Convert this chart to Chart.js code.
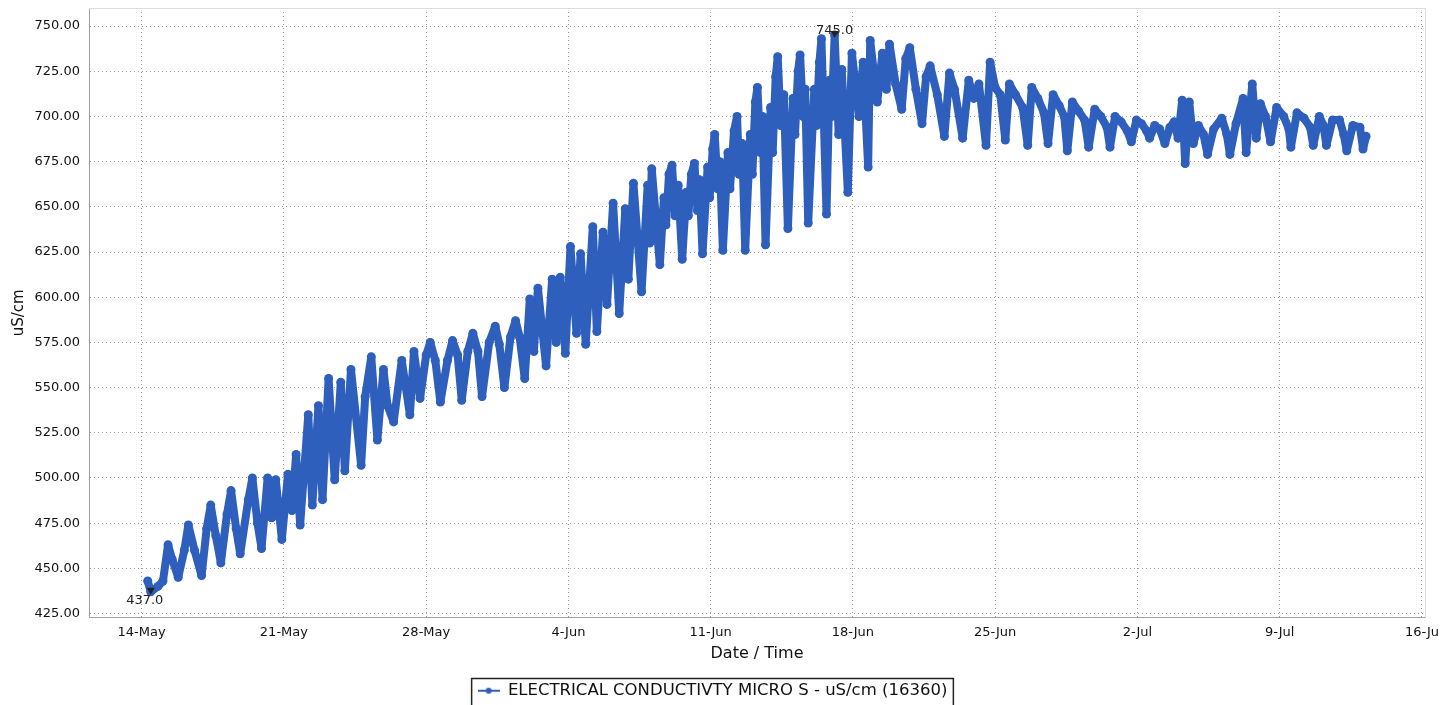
<!DOCTYPE html>
<html>
  <head>
    <script src="https://cdn.jsdelivr.net/npm/chart.js@4/dist/chart.umd.min.js"></script>
    <style>
      body {
        margin: 0;
        background: #ffffff;
      }
      /* fixed size canvas, same as the screenshot */
      #ecChart {
        display: block;
        width: 1440px;
        height: 705px;
      }
    </style>
  </head>
  <body>
    <canvas id="ecChart" width="1440" height="705"></canvas>
    <script>
      // sample times, in days after 14-May 00:00
      var sampleDay = [
        0.30, 0.45, 0.80, 1.05, 1.30, 1.50, 1.80, 2.10, 2.30, 2.60, 2.95, 3.20, 3.40, 3.65, 3.90, 4.20, 4.40, 4.65, 4.85, 5.25,
        5.45, 5.70, 5.90, 6.20, 6.40, 6.60, 6.90, 7.20, 7.40, 7.60, 7.80, 8.20, 8.40, 8.70, 8.90, 9.20, 9.50, 9.80, 10.00, 10.30,
        10.80, 11.00, 11.30, 11.60, 11.90, 12.10, 12.40, 12.80, 13.20, 13.40, 13.70, 14.00, 14.20, 14.45, 14.70, 15.05, 15.30, 15.55, 15.75, 16.05,
        16.30, 16.55, 16.75, 17.10, 17.40, 17.60, 17.85, 18.15, 18.40, 18.60, 18.85, 19.10, 19.30, 19.50, 19.90, 20.20, 20.40, 20.60, 20.85, 21.10,
        21.40, 21.60, 21.85, 22.20, 22.40, 22.70, 22.90, 23.20, 23.50, 23.80, 23.95, 24.20, 24.60, 24.90, 25.00, 25.10, 25.50, 25.70, 25.80, 25.95,
        26.10, 26.25, 26.40, 26.60, 26.80, 26.90, 27.05, 27.20, 27.35, 27.45, 27.60, 27.85, 27.95, 28.10, 28.20, 28.35, 28.45, 28.60, 28.85, 28.95,
        29.15, 29.30, 29.40, 29.55, 29.70, 29.95, 30.05, 30.20, 30.30, 30.45, 30.55, 30.70, 30.95, 31.05, 31.20, 31.30, 31.45, 31.60, 31.80, 32.05,
        32.15, 32.30, 32.40, 32.55, 32.65, 32.80, 33.10, 33.20, 33.35, 33.45, 33.55, 33.70, 33.85, 33.95, 34.10, 34.30, 34.45, 34.75, 34.95, 35.30,
        35.50, 35.75, 35.85, 36.20, 36.45, 36.65, 36.80, 37.10, 37.40, 37.60, 37.80, 38.10, 38.40, 38.60, 38.80, 39.15, 39.50, 39.75, 40.00, 40.40,
        40.70, 40.95, 41.20, 41.55, 41.75, 42.00, 42.25, 42.50, 42.70, 43.00, 43.35, 43.60, 43.80, 44.10, 44.40, 44.60, 44.85, 45.15, 45.40, 45.55,
        45.80, 46.10, 46.40, 46.60, 46.90, 47.20, 47.50, 47.65, 47.90, 48.20, 48.50, 48.70, 48.95, 49.20, 49.45, 49.60, 49.85, 50.10, 50.35, 50.60,
        50.80, 51.00, 51.20, 51.35, 51.55, 51.75, 52.00, 52.25, 52.45, 52.75, 53.15, 53.40, 53.55, 53.85, 54.20, 54.35, 54.65, 54.85, 55.05, 55.30,
        55.55, 55.85, 56.20, 56.45, 56.55, 56.85, 57.20, 57.50, 57.65, 57.95, 58.15, 58.30, 58.60, 58.95, 59.15, 59.30, 59.60, 59.95, 60.10, 60.25
      ];

      // electrical conductivity, uS/cm
      var ecValue = [
        443, 437, 440, 443, 463, 455, 445, 460, 474, 460, 446, 472, 485, 468, 453, 480, 493, 472, 458, 488,
        500, 475, 461, 500, 478, 499, 466, 502, 482, 513, 474, 535, 485, 540, 488, 555, 499, 553, 504, 560,
        507, 545, 567, 521, 560, 540, 531, 565, 535, 570, 544, 568, 575, 565, 542, 565, 576, 568, 543, 570,
        580, 570, 545, 575, 584, 574, 550, 578, 587, 578, 555, 599, 570, 605, 562, 610, 575, 611, 569, 628,
        580, 624, 574, 639, 581, 636, 596, 652, 591, 649, 610, 663, 603, 662, 630, 671, 618, 655, 640, 668,
        673, 645, 662, 621, 658, 645, 668, 674, 648, 665, 624, 672, 655, 682, 690, 660, 675, 626, 680, 660,
        692, 700, 668, 685, 626, 690, 668, 708, 716, 680, 700, 629, 705, 680, 722, 733, 695, 712, 638, 710,
        690, 725, 734, 700, 715, 641, 715, 695, 730, 743, 705, 646, 720, 700, 745, 690, 726, 658, 735, 700,
        730, 672, 742, 708, 735, 715, 740, 718, 704, 732, 738, 715, 696, 722, 728, 712, 689, 724, 715, 688,
        720, 710, 718, 684, 730, 716, 712, 687, 718, 712, 705, 684, 716, 710, 702, 685, 712, 706, 700, 681,
        708, 703, 698, 683, 704, 700, 694, 683, 700, 697, 692, 686, 698, 696, 692, 688, 695, 693, 685, 694,
        697, 688, 709, 674, 708, 685, 695, 690, 679, 693, 699, 690, 679, 696, 710, 680, 718, 688, 707, 700,
        686, 705, 700, 693, 683, 702, 699, 694, 684, 700, 695, 684, 698, 698, 690, 681, 695, 694, 682, 689
      ];

      // axis ticks
      var tickDays = [0, 7, 14, 21, 28, 35, 42, 49, 56, 63];
      var tickDates = ["14-May", "21-May", "28-May", "4-Jun", "11-Jun", "18-Jun", "25-Jun", "2-Jul", "9-Jul", "16-Ju"];
      var ecTicks = [425, 450, 475, 500, 525, 550, 575, 600, 625, 650, 675, 700, 725, 750];

      var seriesName = "ELECTRICAL CONDUCTIVTY MICRO S - uS/cm (16360)";
      var blue = "#2f5fbd";

      var points = [];
      for (var i = 0; i < sampleDay.length; i++) {
        points.push({ x: sampleDay[i], y: ecValue[i] });
      }

      // little line + dot marker for the legend
      var legendMark = document.createElement("canvas");
      legendMark.width = 22;
      legendMark.height = 8;
      var lm = legendMark.getContext("2d");
      lm.strokeStyle = blue;
      lm.lineWidth = 2;
      lm.beginPath();
      lm.moveTo(0, 4);
      lm.lineTo(22, 4);
      lm.stroke();
      lm.fillStyle = blue;
      lm.beginPath();
      lm.arc(11, 4, 3, 0, Math.PI * 2);
      lm.fill();

      // min / max labels, frame, and the box around the legend
      var extrasPlugin = {
        id: "extras",
        afterLayout: function (chart) {
          // legend sits a few px lower in the original
          chart.legend.top += 4;
          chart.legend.bottom += 4;
        },
        afterDatasetsDraw: function (chart) {
          var ctx = chart.ctx;
          var xs = chart.scales.x;
          var ys = chart.scales.y;
          var hi = ecValue.indexOf(Math.max.apply(null, ecValue));
          var lo = ecValue.indexOf(Math.min.apply(null, ecValue));
          ctx.save();
          ctx.font = "13px 'DejaVu Sans'";
          ctx.fillStyle = "#222";
          ctx.textAlign = "center";

          var hx = xs.getPixelForValue(sampleDay[hi]);
          var hy = ys.getPixelForValue(ecValue[hi]);
          ctx.beginPath();
          ctx.moveTo(hx - 4, hy - 4);
          ctx.lineTo(hx + 4, hy - 4);
          ctx.lineTo(hx, hy + 3);
          ctx.closePath();
          ctx.fill();
          ctx.textBaseline = "bottom";
          ctx.fillText(ecValue[hi].toFixed(1), hx, hy + 2);

          var lx = xs.getPixelForValue(sampleDay[lo]);
          var ly = ys.getPixelForValue(ecValue[lo]);
          ctx.beginPath();
          ctx.moveTo(lx - 4, ly - 4);
          ctx.lineTo(lx + 4, ly - 4);
          ctx.lineTo(lx, ly + 3);
          ctx.closePath();
          ctx.fill();
          ctx.textBaseline = "top";
          ctx.fillText(ecValue[lo].toFixed(1), lx - 6, ly + 2);

          // light frame on top / right of the plot
          var a = chart.chartArea;
          ctx.strokeStyle = "#d8dde6";
          ctx.lineWidth = 1;
          ctx.beginPath();
          ctx.moveTo(a.left, a.top + 0.5);
          ctx.lineTo(a.right + 0.5, a.top + 0.5);
          ctx.lineTo(a.right + 0.5, a.bottom);
          ctx.stroke();
          ctx.restore();
        },
        afterDraw: function (chart) {
          var box = chart.legend.legendHitBoxes[0];
          if (!box) return;
          var ctx = chart.ctx;
          ctx.save();
          ctx.strokeStyle = "#222";
          ctx.lineWidth = 1.5;
          ctx.strokeRect(box.left - 6, box.top - 4, box.width + 12, box.height + 20);
          ctx.restore();
        },
      };

      var ctx = document.getElementById("ecChart").getContext("2d");
      var chart = new Chart(ctx, {
        type: "line",
        data: {
          datasets: [
            {
              label: seriesName,
              data: points,
              borderColor: blue,
              backgroundColor: blue,
              borderWidth: 8,
              borderJoinStyle: "round",
              borderCapStyle: "round",
              pointRadius: 4.5,
              pointBorderWidth: 0,
              pointStyle: "circle",
              tension: 0,
            },
          ],
        },
        options: {
          responsive: false,
          animation: false,
          devicePixelRatio: 1,
          layout: {
            padding: { top: 8, right: 15, left: 0, bottom: 0 },
          },
          plugins: {
            tooltip: { enabled: false },
            legend: {
              position: "bottom",
              labels: {
                usePointStyle: true,
                pointStyle: legendMark,
                pointStyleWidth: 22,
                color: "#111",
                font: { family: "'DejaVu Sans'", size: 16.5 },
                padding: 5,
              },
            },
          },
          scales: {
            x: {
              type: "linear",
              min: -2.59,
              max: 63.15,
              afterBuildTicks: function (scale) {
                scale.ticks = tickDays.map(function (d) {
                  return { value: d };
                });
              },
              afterFit: function (scale) {
                scale.height = 56;
                scale.paddingLeft = 0;
                scale.paddingRight = 0;
              },
              ticks: {
                autoSkip: false,
                maxRotation: 0,
                padding: 7,
                color: "#111",
                font: { family: "'DejaVu Sans'", size: 13 },
                callback: function (value) {
                  return tickDates[tickDays.indexOf(value)];
                },
              },
              grid: {
                color: "#9a9a9a",
                drawTicks: false,
              },
              border: { color: "#a0a0a0", width: 1, dash: [1, 3] },
              title: {
                display: true,
                text: "Date / Time",
                color: "#111",
                font: { family: "'DejaVu Sans'", size: 16 },
                padding: { top: 2, bottom: 10 },
              },
            },
            y: {
              min: 422.8,
              max: 760,
              afterBuildTicks: function (scale) {
                scale.ticks = ecTicks.map(function (v) {
                  return { value: v };
                });
              },
              afterFit: function (scale) {
                scale.width = 89;
                scale.paddingTop = 0;
                scale.paddingBottom = 0;
              },
              ticks: {
                padding: 9,
                color: "#111",
                font: { family: "'DejaVu Sans'", size: 13 },
                callback: function (value) {
                  return value.toFixed(2);
                },
              },
              grid: {
                color: "#9a9a9a",
                drawTicks: false,
              },
              border: { color: "#a0a0a0", width: 1, dash: [1, 3] },
              title: {
                display: true,
                text: "uS/cm",
                color: "#111",
                font: { family: "'DejaVu Sans'", size: 15 },
                padding: { top: 10, bottom: 4 },
              },
            },
          },
        },
        plugins: [extrasPlugin],
      });
    </script>
  </body>
</html>
